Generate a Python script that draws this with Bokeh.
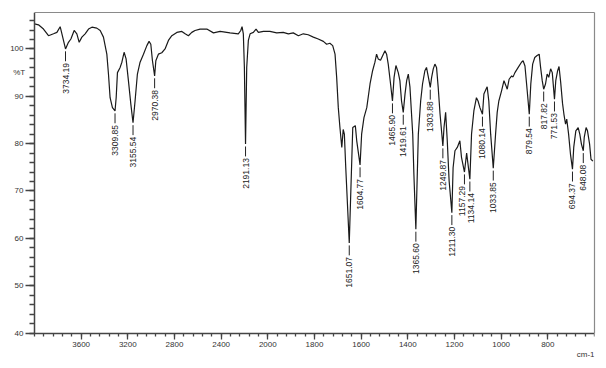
import numpy as np
from math import pi
from bokeh.plotting import figure
from bokeh.models import Range1d, FixedTicker, LinearAxis, Label, ColumnDataSource
from bokeh.core.properties import value
from bokeh.embed import file_html
from bokeh.resources import INLINE

# ---- spectrum (wavenumber cm-1, %T) ----
wavenumber = [4000, 3966, 3923, 3880, 3837, 3808, 3780, 3765, 3734.19, 3709, 3688, 3660, 3637, 3617,
              3594, 3566, 3537, 3508, 3466, 3437, 3409, 3380, 3366, 3352, 3332, 3309.85, 3300, 3289,
              3266, 3251, 3232, 3215, 3195, 3174, 3155.54, 3138, 3118, 3095, 3066, 3037, 3018, 3003,
              2989, 2970.38, 2960, 2938, 2909, 2881, 2852, 2823, 2780, 2737, 2709, 2681, 2652, 2624,
              2581, 2523, 2466, 2409, 2324, 2253, 2232, 2221, 2210, 2201, 2191.13, 2181, 2167, 2152,
              2124, 2101, 2081, 2038, 1991, 1962, 1934, 1912, 1891, 1869, 1848, 1827, 1805, 1784,
              1762, 1748, 1734, 1722, 1712, 1705, 1698, 1691, 1683, 1677, 1672, 1666, 1651.07, 1636,
              1625, 1619, 1604.77, 1598, 1588, 1576, 1562, 1551, 1541, 1534, 1527, 1517, 1505, 1498,
              1491, 1484, 1474, 1465.90, 1459, 1451, 1441, 1434, 1427, 1419.61, 1412, 1405, 1398, 1391,
              1379, 1374, 1365.60, 1355, 1345, 1337, 1327, 1320, 1313, 1303.88, 1298, 1291, 1284, 1277,
              1270, 1262, 1249.87, 1245, 1238, 1231, 1223, 1211.30, 1206, 1198, 1188, 1177, 1170,
              1157.29, 1148, 1134.14, 1127, 1117, 1106, 1099, 1091, 1080.14, 1074, 1065, 1060, 1053,
              1045, 1033.85, 1024, 1017, 1010, 998, 988, 980, 974, 966, 955, 949, 941, 927, 913, 906,
              898, 891, 879.54, 873, 865, 856, 846, 837, 831, 824, 817.82, 810, 803, 796, 788, 781,
              771.53, 766, 758, 752, 745, 737, 731, 724, 719, 711, 703, 694.37, 689, 680, 670, 663,
              656, 648.08, 644, 636, 630, 621, 615, 607]
transmittance = [105.3, 105.1, 104.2, 102.8, 103.2, 103.5, 104.7, 103.2, 100.0, 101.4, 102.1, 103.9, 103.2, 101.4,
                 102.5, 103.2, 104.2, 104.6, 104.4, 103.9, 102.5, 98.9, 94.7, 89.7, 87.6, 86.9, 89.7, 95.0,
                 96.1, 97.2, 99.3, 97.9, 93.3, 88.3, 84.4, 89.0, 94.7, 97.2, 98.9, 100.7, 101.6, 101.0,
                 97.5, 94.3, 97.5, 98.9, 99.2, 100.0, 101.8, 102.8, 103.5, 103.7, 103.2, 102.8, 103.5, 103.9,
                 104.2, 104.2, 103.4, 103.7, 103.4, 103.2, 103.9, 104.7, 103.2, 96.1, 79.9, 96.1, 101.8, 103.2,
                 103.5, 104.2, 103.5, 103.7, 103.7, 103.4, 103.5, 103.2, 103.4, 102.8, 103.2, 103.0, 102.5, 102.1,
                 101.6, 101.0, 101.2, 100.7, 98.9, 94.0, 87.6, 83.4, 79.2, 83.0, 82.0, 74.9, 59.0, 83.4,
                 83.8, 80.6, 75.5, 82.0, 85.5, 87.6, 92.6, 95.4, 97.2, 98.9, 97.9, 97.6, 98.9, 99.6,
                 98.9, 96.8, 92.6, 89.0, 94.0, 96.5, 95.0, 93.3, 89.0, 86.6, 90.5, 93.3, 94.7, 92.0,
                 82.0, 73.5, 61.9, 82.0, 89.0, 92.6, 95.4, 96.1, 94.3, 91.9, 94.0, 95.8, 96.8, 96.1,
                 92.0, 86.3, 79.5, 83.4, 86.6, 80.6, 72.1, 65.4, 74.9, 78.5, 79.2, 80.6, 77.1,
                 74.0, 78.0, 72.5, 82.0, 86.9, 89.7, 89.0, 87.6, 86.2, 90.5, 91.5, 92.0, 89.0,
                 82.0, 74.8, 82.0, 86.6, 89.0, 91.2, 93.3, 92.3, 91.5, 93.6, 94.3, 94.1, 95.0, 96.1, 97.2, 97.5,
                 96.4, 92.6, 86.2, 92.6, 96.8, 98.2, 98.6, 98.9, 96.1, 93.3, 91.5, 92.6, 94.7, 94.0, 95.8, 95.0,
                 89.4, 93.3, 95.4, 96.3, 93.0, 88.5, 86.2, 84.1, 85.2, 82.0, 77.8, 74.6, 79.2, 82.7, 83.4, 82.0,
                 79.9, 78.5, 81.3, 83.4, 82.7, 79.9, 76.7, 76.3]

# ---- labelled peaks ----
peak_wn = [3734.19, 3309.85, 3155.54, 2970.38, 2191.13, 1651.07, 1604.77, 1465.90, 1419.61, 1365.60,
           1303.88, 1249.87, 1211.30, 1157.29, 1134.14, 1080.14, 1033.85, 879.54, 817.82, 771.53,
           694.37, 648.08]
peak_t = [100.0, 86.9, 84.4, 94.3, 79.9, 59.0, 75.5, 89.0, 86.6, 61.9,
          91.9, 79.5, 65.4, 74.0, 72.5, 86.2, 74.8, 86.2, 91.5, 89.4,
          74.6, 78.5]
peak_text = ["3734.19", "3309.85", "3155.54", "2970.38", "2191.13", "1651.07", "1604.77", "1465.90",
             "1419.61", "1365.60", "1303.88", "1249.87", "1211.30", "1157.29", "1134.14", "1080.14",
             "1033.85", "879.54", "817.82", "771.53", "694.37", "648.08"]

x_tick_values = [3600, 3200, 2800, 2400, 2000, 1800, 1600, 1400, 1200, 1000, 800]
y_tick_values = [40, 50, 60, 70, 80, 90, 100]
y_unit_level = 95          # where the "%T" caption sits beside the y axis
x_start, x_break, x_end = 4000, 2000, 600
y_start, y_end = 40, 107.7


def to_axis(wn):
    """Instrument axis: scale doubles below 2000 cm-1."""
    wn = np.asarray(wn, dtype=float)
    return np.where(wn >= x_break, wn, x_break - 2.0 * (x_break - wn))


FONT = "Liberation Sans"
W, H = 604, 366
# canvas geometry (px): the drawing frame covers the whole canvas area so that the
# pinned axes and their labels are not clipped
AXIS_X_PX, RIGHT_PX = 34, 594       # left axis and right edge of the box
TOP_PX, AXIS_Y_PX = 12, 332.5       # top edge of the box and bottom axis
FRAME_BOTTOM_PX = 364
u_lo, u_hi = float(to_axis(x_end)), float(x_start)
u_per_px = (u_hi - u_lo) / (RIGHT_PX - AXIS_X_PX)
t_per_px = (y_end - y_start) / (AXIS_Y_PX - TOP_PX)
u_left = u_hi + AXIS_X_PX * u_per_px
t_low = y_start - (FRAME_BOTTOM_PX - AXIS_Y_PX) * t_per_px

p = figure(width=W, height=H, output_backend="svg", toolbar_location=None,
           x_range=Range1d(u_left, u_lo), y_range=Range1d(t_low, y_end),
           x_axis_location=None, y_axis_location=None,
           min_border_left=0, min_border_right=W - RIGHT_PX, min_border_top=TOP_PX,
           min_border_bottom=H - FRAME_BOTTOM_PX)
p.grid.visible = False
p.outline_line_color = None
p.background_fill_color = "white"
p.border_fill_color = "white"

# bottom axis pinned at 40 %T
xt = [int(v) for v in to_axis(x_tick_values)]
xax = LinearAxis(fixed_location=y_start, bounds=(u_lo, u_hi),
                 ticker=FixedTicker(ticks=xt, minor_ticks=list(range(int(u_lo), int(u_hi) + 1, 80))),
                 major_label_overrides={int(u): str(v) for u, v in zip(xt, x_tick_values)})
p.add_layout(xax, "below")

# left axis pinned at 4000 cm-1
yax = LinearAxis(fixed_location=x_start, bounds=(y_start, y_end),
                 ticker=FixedTicker(ticks=y_tick_values, minor_ticks=list(range(y_start, 108, 2))))
p.add_layout(yax, "left")

for ax in (xax, yax):
    ax.axis_line_color = "#444444"
    ax.axis_line_width = 1.5
    ax.major_tick_line_color = "#444444"
    ax.minor_tick_line_color = "#444444"
    ax.major_tick_line_width = 1.3
    ax.minor_tick_line_width = 1.3
    ax.major_tick_in = 0
    ax.minor_tick_in = 0
    ax.major_label_text_font = FONT
    ax.major_label_text_font_size = "8px"
    ax.major_label_text_color = "#333333"
xax.major_tick_out = 6
xax.minor_tick_out = 3
xax.major_label_standoff = 3
yax.major_tick_out = 9
yax.minor_tick_out = 5
yax.major_label_standoff = 2

# top and right lines of the box (bare axes)
top = LinearAxis(ticker=FixedTicker(ticks=[], minor_ticks=[]), bounds=(u_lo, u_hi),
                 axis_line_color="#8a8a8a", axis_line_width=1.2, major_label_text_font_size="0px",
                 major_tick_out=0, minor_tick_out=0)
right = LinearAxis(ticker=FixedTicker(ticks=[], minor_ticks=[]), bounds=(y_start, y_end),
                   axis_line_color="#8a8a8a", axis_line_width=1.2, major_label_text_font_size="0px",
                   major_tick_out=0, minor_tick_out=0)
p.add_layout(top, "above")
p.add_layout(right, "right")

# captions
p.add_layout(Label(x=12.7, y=y_unit_level, x_units="screen", y_units="data", text="%T", text_font=FONT,
                   text_font_size="8px", text_color="#333333", text_baseline="middle", text_align="left"))
p.add_layout(Label(x=RIGHT_PX, y=y_start - 21.5 * t_per_px, x_units="screen", y_units="data",
                   text="cm-1", text_font=FONT, text_font_size="8px", text_color="#333333",
                   text_baseline="middle", text_align="right"))

# spectrum
src = ColumnDataSource(dict(u=to_axis(wavenumber), t=transmittance))
p.line("u", "t", source=src, line_color="#1a1a1a", line_width=1.2)

# peak leaders and labels (two crowded labels nudged apart, in screen px)
pu = to_axis(peak_wn)
pt = np.asarray(peak_t)
nudge = [0.0] * len(peak_text)
nudge[peak_text.index("1157.29")] = -2.5
nudge[peak_text.index("1134.14")] = 1.5
p.segment(x0=pu, y0=pt - 0.5, x1=pu, y1=pt - 2.6, line_color="#222222", line_width=1)
lsrc = ColumnDataSource(dict(u=pu, t=pt, s=peak_text, dx=nudge))
p.text("u", "t", text="s", source=lsrc, angle=pi / 2, text_align="right", text_baseline="middle",
       x_offset="dx", y_offset=14, text_font=value(FONT), text_font_size="8.5px", text_color="#222222")

open("out.html", "w").write(file_html(p, INLINE))
